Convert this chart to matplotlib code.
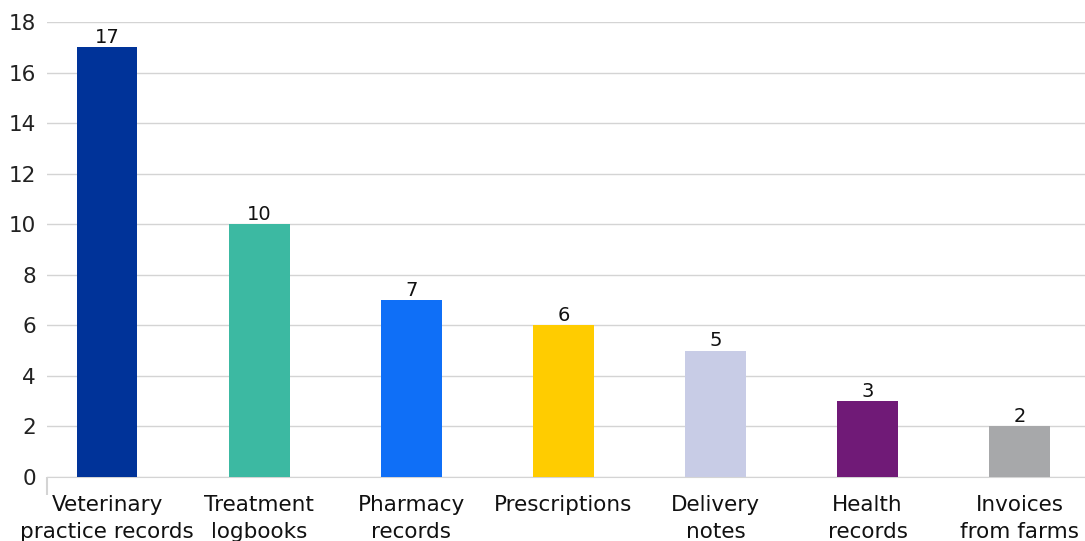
import matplotlib
matplotlib.use('Agg')
import matplotlib.pyplot as plt
from matplotlib.ticker import MultipleLocator

categories = ["Veterinary\npractice records", "Treatment\nlogbooks", "Pharmacy\nrecords",
              "Prescriptions", "Delivery\nnotes", "Health\nrecords", "Invoices\nfrom farms"]
values = [17, 10, 7, 6, 5, 3, 2]
colors = ["#003399", "#3CB9A2", "#0F6FF7", "#FFCC00", "#C8CCE6", "#701A77", "#A7A8AA"]

fig = plt.figure(figsize=(10.85, 5.41), dpi=100)
ax = fig.add_axes([47 / 1085, 64 / 541, 1 - 47 / 1085, 455 / 541])

x = list(range(len(categories)))
bars = ax.bar(x, values, width=0.4, color=colors, zorder=3)
for b, v in zip(bars, values):
    ax.text(b.get_x() + b.get_width() / 2, v + 0.02, str(v), ha="center", va="bottom",
            fontsize=14, color="#111111")

ax.set_ylim(0, 18)
ax.set_xlim(-0.395, 6.43)
ax.yaxis.set_major_locator(MultipleLocator(2))
ax.grid(axis="y", color="#D4D4D4", linewidth=1, zorder=0)
for s in ["top", "right", "left"]:
    ax.spines[s].set_visible(False)
ax.spines["bottom"].set_color("#D4D4D4")
ax.tick_params(axis="y", length=0, labelsize=15.5, labelcolor="#222222", pad=8)
ax.set_xticks(x)
ax.set_xticklabels(categories, fontsize=15.5, color="#111111", linespacing=1.45)
ax.tick_params(axis="x", length=0, pad=13)
ax.set_xticks([-0.395], minor=True)
ax.tick_params(axis="x", which="minor", length=13, color="#D4D4D4", width=1.5)

plt.savefig("out.png", dpi=100)
plt.close()
